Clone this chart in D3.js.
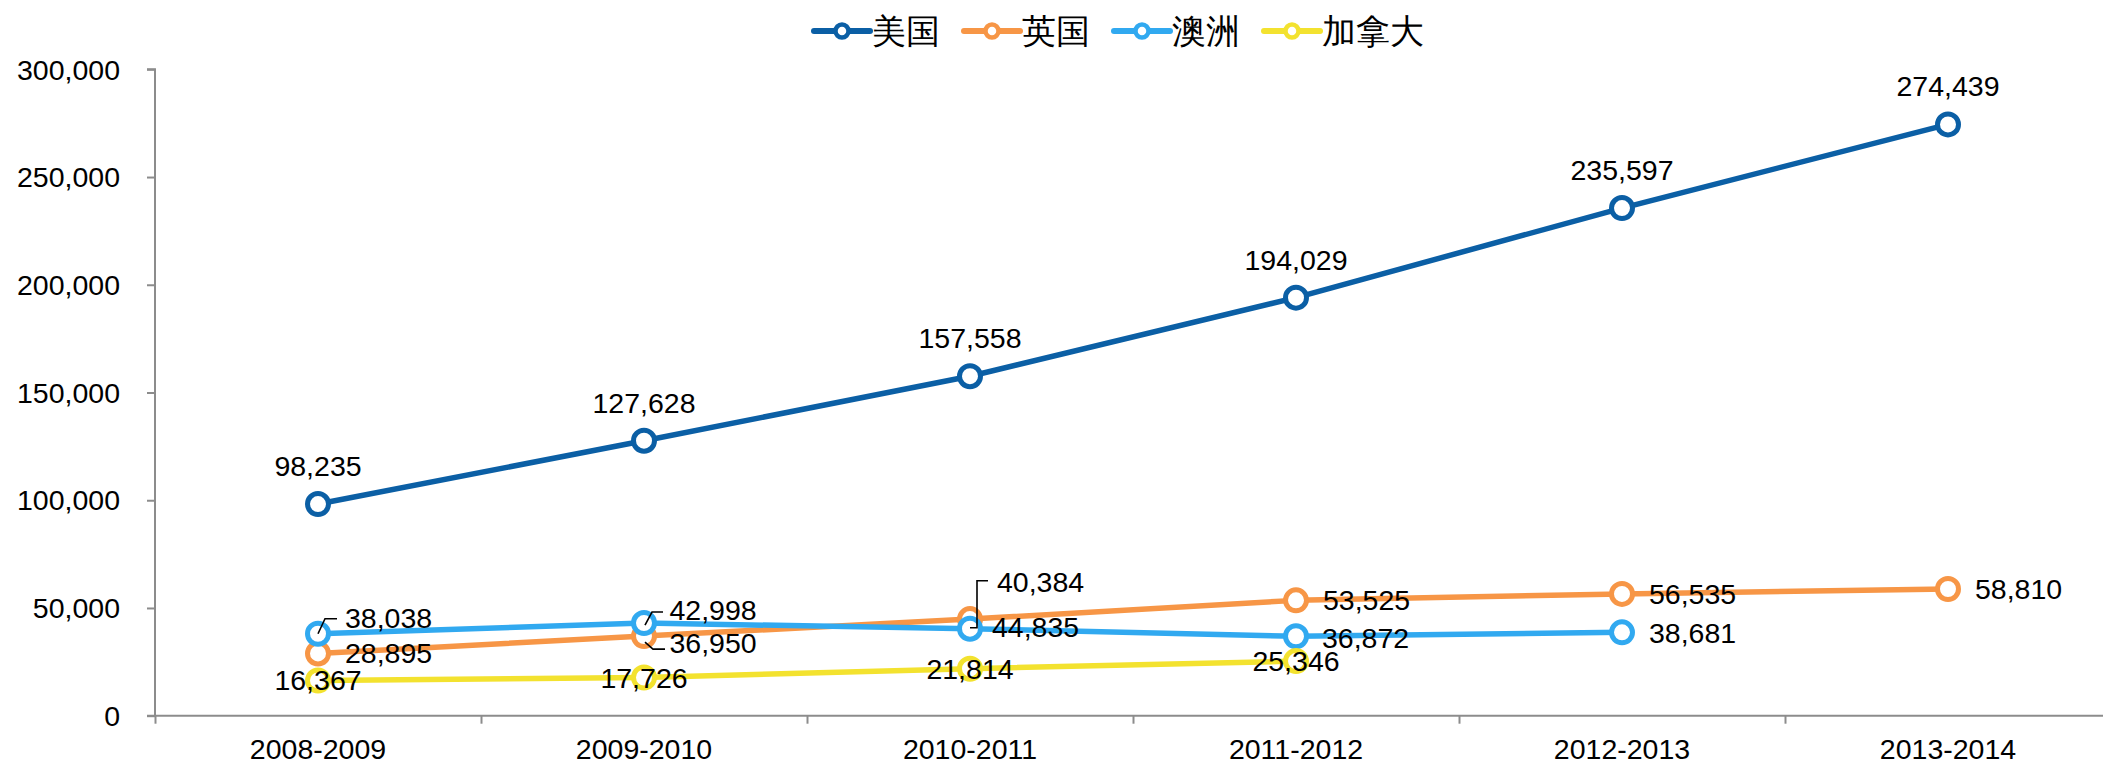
<!DOCTYPE html>
<html>
<head>
<meta charset="utf-8">
<script src="https://cdn.jsdelivr.net/npm/d3@7"></script>
<style>
  html, body { margin: 0; padding: 0; background: #ffffff; }
  svg { display: block; }
  text { font-family: "Liberation Sans", Arial, sans-serif; }
</style>
</head>
<body>
<svg id="chart" width="2103" height="764"></svg>
<script>
// ---------------- data ----------------
const categories = ["2008-2009", "2009-2010", "2010-2011", "2011-2012", "2012-2013", "2013-2014"];
const seriesNames = ["美国", "英国", "澳洲", "加拿大"];
const usaValues = [98235, 127628, 157558, 194029, 235597, 274439];
const ukValues = [28895, 36950, 44835, 53525, 56535, 58810];
const australiaValues = [38038, 42998, 40384, 36872, 38681];
const canadaValues = [16367, 17726, 21814, 25346];
const yTickValues = [0, 50000, 100000, 150000, 200000, 250000, 300000];

// ---------------- style / layout ----------------
const colors = ["#0b5fa5", "#f79646", "#31a9f0", "#f3e22f"];
const W = 2103, H = 764;
const plot = { left: 155, right: 2111, top: 69.3, bottom: 715.7 };
const FONT = 28.5;

// label placement per series (offsets from the point, in px)
const labelLayout = [
  { anchor: "middle", def: [0, -28], over: {} },
  { anchor: "start", def: [27, 10], over: { 1: [25.5, 17], 2: [22, 18] } },
  { anchor: "start", def: [27, 11], over: { 0: [27, -6], 1: [25.5, -3], 2: [27, -37], 3: [26, 11.5] } },
  { anchor: "middle", def: [0, 10], over: {} }
];
// leader lines (relative to point)
const leaders = [
  { s: 2, i: 0, d: "M0,0 L7,-15 H19" },
  { s: 2, i: 1, d: "M1,2 L8,-11 H19" },
  { s: 1, i: 1, d: "M1,6 L9,13 H21" },
  { s: 2, i: 2, d: "M0,-1 H7 V-48 H18" }
];

const seriesValues = [usaValues, ukValues, australiaValues, canadaValues];
const series = seriesNames.map((name, k) => ({
  name, color: colors[k],
  points: seriesValues[k].map((v, i) => ({ cat: categories[i], v, i }))
}));

const svg = d3.select("#chart");

const x = d3.scaleBand().domain(categories).range([plot.left, plot.right]).paddingInner(0).paddingOuter(0);
const xEdge = d3.scaleLinear().domain([0, categories.length]).range([plot.left, plot.right]);
const y = d3.scaleLinear().domain([0, 300000]).range([plot.bottom, plot.top]);
const cx = c => x(c) + x.bandwidth() / 2;

// ---------------- axes ----------------
const axisColor = "#8c8c8c";

const yAxis = svg.append("g")
  .attr("transform", `translate(${plot.left},0)`)
  .call(d3.axisLeft(y).tickValues(yTickValues).tickSize(8).tickPadding(27).tickFormat(d3.format(",")));
yAxis.select(".domain").attr("stroke", axisColor).attr("stroke-width", 2)
  .attr("d", `M-8,${plot.top}H0V${plot.bottom}`);
yAxis.selectAll(".tick line").attr("stroke", axisColor).attr("stroke-width", 2);
yAxis.selectAll(".tick text").attr("font-size", FONT).attr("fill", "#000")
  .attr("font-family", "'Liberation Sans', Arial, sans-serif").attr("dy", "0.34em");

const xTicks = svg.append("g")
  .attr("transform", `translate(0,${plot.bottom})`)
  .call(d3.axisBottom(xEdge).ticks(categories.length).tickSize(8).tickFormat(""));
xTicks.select(".domain").attr("stroke", axisColor).attr("stroke-width", 2)
  .attr("d", `M${plot.left - 8},0H${W}`);
xTicks.selectAll(".tick line").attr("stroke", axisColor).attr("stroke-width", 2);

const xAxis = svg.append("g")
  .attr("transform", `translate(0,${plot.bottom})`)
  .call(d3.axisBottom(x).tickSize(0).tickPadding(0));
xAxis.select(".domain").remove();
xAxis.selectAll(".tick text").attr("font-size", FONT).attr("fill", "#000")
  .attr("font-family", "'Liberation Sans', Arial, sans-serif")
  .attr("dy", null).attr("y", 43);

// ---------------- lines & markers ----------------
const line = d3.line().x(d => cx(d.cat)).y(d => y(d.v));
const gSeries = svg.append("g");
series.forEach(s => {
  const g = gSeries.append("g");
  g.append("path").datum(s.points).attr("d", line)
    .attr("fill", "none").attr("stroke", s.color).attr("stroke-width", 5.5)
    .attr("stroke-linejoin", "round");
  g.selectAll("circle").data(s.points).join("circle")
    .attr("cx", d => cx(d.cat)).attr("cy", d => y(d.v)).attr("r", 10.5)
    .attr("fill", "#fff").attr("stroke", s.color).attr("stroke-width", 5);
});

// ---------------- leader lines ----------------
const gLead = svg.append("g");
leaders.forEach(l => {
  const p = series[l.s].points[l.i];
  gLead.append("path")
    .attr("transform", `translate(${cx(p.cat)},${y(p.v)})`)
    .attr("d", l.d).attr("fill", "none").attr("stroke", "#000").attr("stroke-width", 1.6);
});

// ---------------- data labels ----------------
const fmt = d3.format(",");
const gLab = svg.append("g");
series.forEach((s, k) => {
  const lay = labelLayout[k];
  gLab.append("g").selectAll("text").data(s.points).join("text")
    .attr("x", d => cx(d.cat) + (lay.over[d.i] || lay.def)[0])
    .attr("y", d => y(d.v) + (lay.over[d.i] || lay.def)[1])
    .attr("text-anchor", lay.anchor)
    .attr("font-size", FONT).attr("fill", "#000")
    .text(d => fmt(d.v));
});

// ---------------- legend ----------------
const legend = svg.append("g").attr("transform", "translate(814,31)");
let lx = 0;
series.forEach(s => {
  const g = legend.append("g").attr("transform", `translate(${lx},0)`);
  g.append("line").attr("x1", 0).attr("x2", 56).attr("y1", 0).attr("y2", 0)
    .attr("stroke", s.color).attr("stroke-width", 6).attr("stroke-linecap", "round");
  g.append("circle").attr("cx", 28).attr("cy", 0).attr("r", 6.5)
    .attr("fill", "#fff").attr("stroke", s.color).attr("stroke-width", 4.5);
  const t = g.append("text").attr("x", 58).attr("y", 12)
    .attr("font-family", "'Noto Sans CJK SC', sans-serif")
    .attr("font-size", 34).attr("fill", "#000").text(s.name);
  lx += 58 + t.node().getComputedTextLength() + 24;
});
</script>
</body>
</html>
